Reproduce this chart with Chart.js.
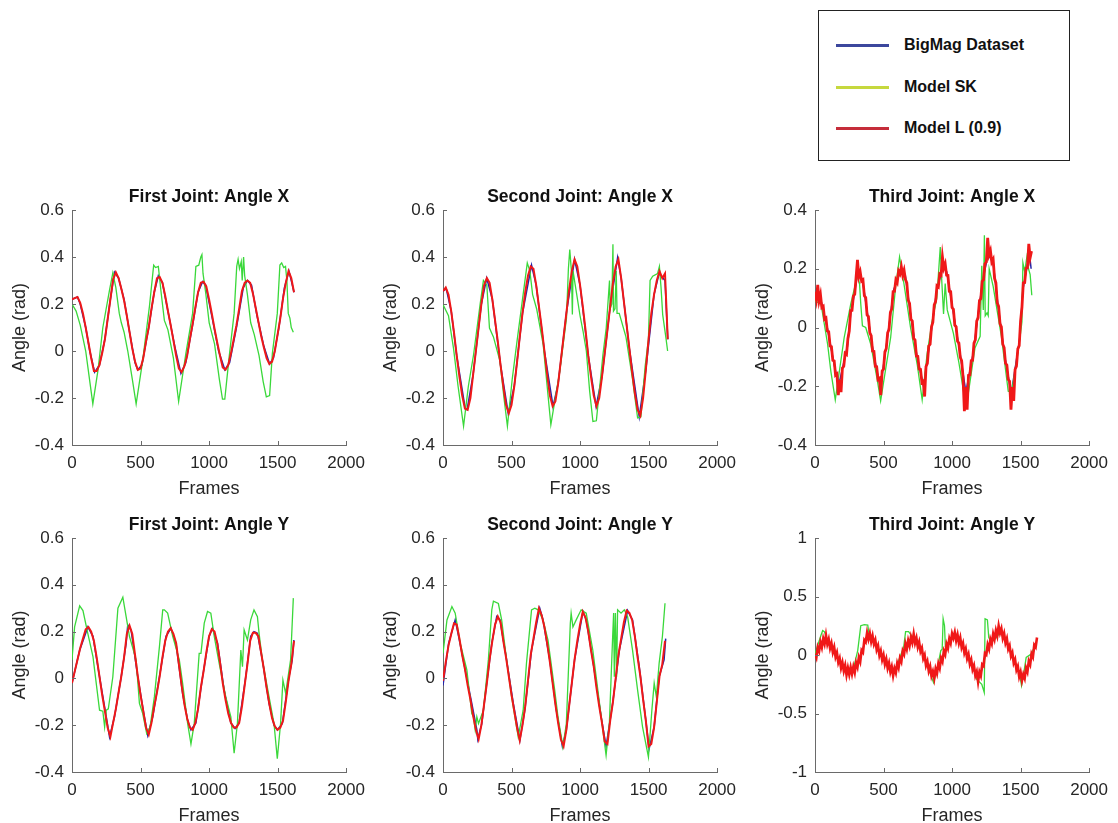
<!DOCTYPE html>
<html>
<head>
<meta charset="utf-8">
<title>Joint angles</title>
<script src="https://cdn.jsdelivr.net/npm/chart.js@4.4.1/dist/chart.umd.min.js"></script>
<style>
  body { margin: 0; background: #fff; }
  #page { position: relative; width: 1118px; height: 823px; overflow: hidden; background: #fff;
          font-family: "Liberation Sans", Arial, sans-serif; }
  canvas.panel { position: absolute; }
  #legend { position: absolute; left: 818px; top: 10px; width: 252px; height: 151px;
            box-sizing: border-box; border: 1px solid #222; background: #fff; }
  .legend-line { position: absolute; left: 17px; width: 53px; height: 3px; }
  .legend-text { position: absolute; left: 85px; height: 20px; line-height: 20px;
                 font-weight: bold; font-size: 16px; color: #111; white-space: nowrap; }
</style>
</head>
<body>
<div id="page">
  <div id="legend"></div>
</div>
<script>
// red traces are sampled on a fixed frame grid, the others at their own frames
const FRAME_STEP = 20;
const NOISY_STEP = 10;

const seriesNames = ["BigMag Dataset", "Model SK", "Model L (0.9)"];
const panelTitles = [
  "First Joint: Angle X", "Second Joint: Angle X", "Third Joint: Angle X",
  "First Joint: Angle Y", "Second Joint: Angle Y", "Third Joint: Angle Y"
];
const frameTicks = [0, 500, 1000, 1500, 2000];
const angleTicksWide = [-0.4, -0.2, 0, 0.2, 0.4, 0.6];
const angleTicksNarrow = [-0.4, -0.2, 0, 0.2, 0.4];
const angleTicksUnit = [-1, -0.5, 0, 0.5, 1];

// ---- First Joint: Angle X
const b1Frames = [0,40,60,100,130,165,200,240,280,310,340,380,420,460,480,510,560,600,630,660,700,750,795,830,880,920,953,975,1020,1070,1115,1150,1200,1250,1280,1310,1350,1400,1442,1470,1510,1550,1583,1600,1620];
const b1Angle = [0.22,0.23,0.20,0.10,0.0,-0.09,-0.06,0.05,0.22,0.335,0.31,0.22,0.08,-0.05,-0.08,-0.06,0.10,0.25,0.32,0.29,0.17,0.02,-0.095,-0.05,0.11,0.25,0.295,0.28,0.15,0.0,-0.08,-0.05,0.10,0.27,0.30,0.28,0.15,0.02,-0.055,-0.03,0.10,0.27,0.34,0.30,0.25];
const g1Frames = [0,30,60,100,130,152,190,225,274,298,320,345,360,380,407,440,468,516,565,596,610,630,650,674,700,740,778,831,880,904,925,940,948,956,975,1001,1040,1075,1098,1115,1147,1183,1202,1212,1222,1235,1242,1252,1260,1280,1304,1330,1365,1395,1418,1442,1462,1498,1517,1530,1545,1558,1568,1578,1590,1600,1615];
const g1Angle = [0.20,0.17,0.11,0.0,-0.13,-0.225,-0.08,0.10,0.26,0.333,0.27,0.16,0.12,0.08,0.0,-0.12,-0.225,-0.04,0.19,0.365,0.355,0.36,0.25,0.13,0.09,-0.03,-0.215,-0.01,0.16,0.36,0.365,0.40,0.41,0.33,0.25,0.12,0.03,-0.12,-0.205,-0.205,-0.024,0.16,0.36,0.39,0.35,0.38,0.30,0.40,0.32,0.24,0.12,0.07,-0.02,-0.13,-0.195,-0.19,-0.01,0.16,0.366,0.375,0.355,0.36,0.30,0.16,0.14,0.10,0.08];
const r1Angle = [0.22,0.225,0.23,0.205,0.16,0.10,0.035,-0.03,-0.085,-0.085,
  -0.06,-0.01,0.05,0.135,0.22,0.305,0.335,0.31,0.265,0.215,
  0.15,0.08,0.01,-0.045,-0.08,-0.075,-0.03,0.04,0.10,0.18,
  0.25,0.31,0.315,0.29,0.235,0.17,0.11,0.045,-0.02,-0.075,
  -0.09,-0.065,-0.02,0.05,0.115,0.185,0.25,0.29,0.295,0.275,
  0.22,0.16,0.095,0.035,-0.02,-0.07,-0.08,-0.06,-0.01,0.05,
  0.11,0.18,0.255,0.29,0.30,0.29,0.245,0.185,0.125,0.065,
  0.015,-0.03,-0.055,-0.045,0.0,0.07,0.14,0.225,0.29,0.34,
  0.31,0.25];

// ---- Second Joint: Angle X
const b2Frames = [0,24,60,100,162,176,220,280,319,360,420,476,520,580,646,680,740,803,840,900,960,1000,1060,1117,1160,1220,1274,1300,1360,1432,1480,1540,1577,1620,1640];
const b2Angle = [0.255,0.265,0.17,-0.02,-0.245,-0.25,-0.10,0.20,0.31,0.22,-0.06,-0.265,-0.15,0.16,0.365,0.28,0.0,-0.236,-0.14,0.16,0.39,0.28,-0.02,-0.236,-0.11,0.19,0.397,0.31,0.01,-0.28,-0.08,0.24,0.33,0.30,0.05];
const g2Frames = [0,40,77,110,150,185,223,271,295,320,339,368,416,445,470,505,537,580,615,634,654,683,731,760,787,852,901,915,925,937,944,949,965,1000,1022,1046,1070,1094,1119,1167,1191,1215,1220,1232,1240,1244,1255,1264,1270,1286,1335,1383,1420,1444,1475,1499,1511,1530,1566,1579,1591,1603,1627,1639];
const g2Angle = [0.198,0.15,0.01,-0.15,-0.32,-0.15,-0.016,0.20,0.30,0.28,0.098,0.06,-0.044,-0.2,-0.32,-0.12,0.027,0.22,0.375,0.34,0.24,0.18,0.027,-0.15,-0.314,-0.087,0.14,0.35,0.432,0.34,0.155,0.34,0.28,0.15,0.084,0.0,-0.17,-0.30,-0.297,-0.016,0.098,0.30,0.18,0.20,0.454,0.17,0.18,0.34,0.16,0.16,0.06,-0.12,-0.285,-0.28,-0.065,0.05,0.30,0.318,0.33,0.36,0.27,0.155,0.055,0.0];
const r2Angle = [0.255,0.27,0.24,0.17,0.08,-0.02,-0.11,-0.19,-0.245,-0.25,
  -0.20,-0.10,0.0,0.10,0.20,0.28,0.31,0.29,0.22,0.13,
  0.04,-0.06,-0.15,-0.23,-0.265,-0.23,-0.15,-0.05,0.06,0.16,
  0.25,0.32,0.36,0.35,0.28,0.19,0.10,0.0,-0.10,-0.19,
  -0.235,-0.215,-0.14,-0.04,0.06,0.16,0.26,0.34,0.39,0.36,
  0.28,0.19,0.09,-0.02,-0.11,-0.19,-0.235,-0.20,-0.11,-0.01,
  0.09,0.19,0.29,0.36,0.39,0.31,0.21,0.11,0.01,-0.09,
  -0.18,-0.25,-0.275,-0.20,-0.08,0.05,0.16,0.24,0.30,0.34,
  0.31,0.33,0.05];

// ---- Third Joint: Angle X (red sampled every NOISY_STEP frames)
const b3Frames = [0,40,92,128,152,176,237,261,285,309,345,382,418,454,478,527,575,623,659,696,744,792,841,889,937,961,1010,1058,1101,1155,1191,1227,1263,1300,1336,1384,1432,1493,1517,1541,1565,1577];
const b3Angle = [0.11,0.10,-0.006,-0.097,-0.154,-0.19,-0.063,0.05,0.108,0.18,0.166,0.05,-0.063,-0.154,-0.20,-0.04,0.13,0.19,0.177,0.05,-0.097,-0.20,-0.04,0.13,0.21,0.19,0.05,-0.086,-0.22,-0.086,0.05,0.166,0.25,0.22,0.074,-0.097,-0.225,-0.04,0.13,0.19,0.25,0.20];
const g3Frames = [0,44,92,116,148,213,261,310,325,334,346,370,407,455,479,552,588,617,649,697,746,782,818,855,889,914,926,938,950,965,1010,1050,1085,1120,1167,1205,1217,1228,1236,1242,1255,1264,1271,1300,1360,1410,1434,1470,1497,1510,1517,1530,1546,1558,1570,1582];
const g3Angle = [0.09,0.08,-0.057,-0.15,-0.246,-0.034,0.08,0.177,0.15,0.08,0.006,0.0,-0.057,-0.18,-0.25,-0.034,0.137,0.24,0.149,0.0,-0.126,-0.246,-0.09,0.023,0.10,0.274,0.15,0.046,0.15,0.06,-0.02,-0.12,-0.22,-0.22,-0.07,-0.03,0.21,0.06,0.314,0.04,0.05,0.04,0.20,0.14,-0.03,-0.217,-0.22,-0.12,-0.03,0.02,0.22,0.19,0.24,0.20,0.18,0.11];
const r3Angle = [0.122,0.096,0.145,0.091,0.112,0.068,0.072,0.028,0.032,-0.012,
  -0.014,-0.063,-0.065,-0.112,-0.114,-0.162,-0.158,-0.23,-0.178,-0.22,
  -0.138,-0.132,-0.088,-0.092,-0.038,-0.012,0.057,0.058,0.107,0.113,
  0.172,0.23,0.173,0.189,0.158,0.162,0.108,0.102,0.043,0.037,
  -0.018,-0.028,-0.08,-0.081,-0.132,-0.133,-0.177,-0.173,-0.23,-0.148,
  -0.142,-0.083,-0.072,-0.018,-0.007,0.052,0.063,0.122,0.123,0.162,
  0.153,0.192,0.183,0.207,0.178,0.195,0.163,0.152,0.093,0.082,
  0.028,0.022,-0.037,-0.043,-0.097,-0.098,-0.142,-0.143,-0.187,-0.183,
  -0.235,-0.133,-0.122,-0.063,-0.057,0.002,0.018,0.077,0.088,0.142,
  0.138,0.182,0.178,0.24,0.203,0.217,0.178,0.177,0.123,0.122,
  0.068,0.062,0.008,0.002,-0.047,-0.053,-0.102,-0.113,-0.167,-0.285,
  -0.203,-0.28,-0.163,-0.162,-0.113,-0.112,-0.053,-0.042,0.022,0.033,
  0.092,0.098,0.157,0.163,0.217,0.223,0.305,0.248,0.262,0.223,
  0.232,0.168,0.152,0.083,0.072,0.013,0.002,-0.057,-0.068,-0.122,
  -0.128,-0.177,-0.183,-0.28,-0.203,-0.25,-0.143,-0.132,-0.073,-0.062,
  0.022,0.068,0.152,0.153,0.202,0.203,0.285,0.238,0.26];

// ---- First Joint: Angle Y
const b4Frames = [0,56,116,153,201,250,274,310,359,395,407,431,480,528,553,589,638,686,722,759,807,844,868,904,953,1001,1025,1062,1110,1159,1190,1219,1268,1304,1328,1353,1389,1438,1474,1498,1535,1583,1607,1619];
const b4Angle = [-0.02,0.12,0.22,0.18,0.007,-0.164,-0.25,-0.164,0.007,0.15,0.228,0.207,0.007,-0.164,-0.243,-0.164,0.007,0.18,0.214,0.15,-0.064,-0.18,-0.22,-0.19,0.007,0.18,0.214,0.15,-0.05,-0.19,-0.214,-0.19,0.007,0.18,0.20,0.193,0.079,-0.107,-0.20,-0.22,-0.193,0.007,0.079,0.164];
const g4Frames = [0,19,56,80,116,153,201,225,238,250,265,298,335,371,395,419,468,492,516,545,570,601,638,662,674,698,735,783,807,844,868,892,928,941,965,989,1013,1038,1074,1122,1159,1183,1207,1232,1244,1256,1280,1304,1328,1353,1365,1389,1438,1474,1498,1522,1539,1559,1595,1615];
const g4Angle = [0.079,0.22,0.31,0.29,0.19,0.093,-0.136,-0.14,-0.207,-0.136,-0.13,0.007,0.30,0.347,0.264,0.18,0.079,-0.107,-0.15,-0.236,-0.207,-0.079,0.136,0.293,0.293,0.279,0.18,0.079,-0.02,-0.193,-0.28,-0.193,0.107,0.107,0.236,0.286,0.279,0.18,0.064,-0.079,-0.164,-0.32,-0.193,0.121,0.05,0.207,0.164,0.25,0.293,0.264,0.193,0.079,-0.079,-0.193,-0.343,-0.193,-0.007,-0.064,0.079,0.343];
const r4Angle = [-0.02,0.03,0.08,0.13,0.17,0.21,0.22,0.20,0.16,0.09,
  0.01,-0.07,-0.14,-0.21,-0.25,-0.19,-0.13,-0.06,0.01,0.09,
  0.19,0.225,0.19,0.10,0.01,-0.07,-0.14,-0.21,-0.24,-0.19,
  -0.12,-0.06,0.01,0.09,0.16,0.20,0.215,0.19,0.15,0.06,
  -0.03,-0.11,-0.17,-0.21,-0.22,-0.19,-0.13,-0.04,0.03,0.11,
  0.18,0.21,0.20,0.15,0.07,-0.02,-0.09,-0.15,-0.19,-0.21,
  -0.21,-0.19,-0.12,-0.03,0.06,0.16,0.195,0.195,0.18,0.11,
  0.04,-0.04,-0.11,-0.17,-0.205,-0.22,-0.21,-0.18,-0.10,-0.01,
  0.06,0.16];

// ---- Second Joint: Angle Y
const b5Frames = [0,41,89,114,162,210,247,254,283,319,356,392,416,464,513,561,597,646,706,730,779,827,871,900,960,1021,1045,1093,1154,1190,1238,1287,1347,1383,1432,1480,1504,1541,1577,1613,1625];
const b5Angle = [-0.03,0.15,0.25,0.18,0.036,-0.107,-0.22,-0.26,-0.193,-0.02,0.15,0.264,0.25,0.079,-0.107,-0.264,-0.136,0.121,0.30,0.25,0.079,-0.136,-0.29,-0.22,0.079,0.286,0.25,0.079,-0.164,-0.29,-0.107,0.121,0.29,0.25,0.05,-0.179,-0.30,-0.207,0.007,0.079,0.17];
const g5Frames = [0,29,65,89,126,174,210,222,235,247,259,295,331,356,368,404,428,464,501,549,585,609,646,670,694,730,766,815,839,875,900,929,935,948,972,1008,1045,1093,1142,1190,1214,1238,1245,1250,1258,1267,1274,1299,1323,1347,1383,1420,1456,1499,1524,1541,1557,1577,1601,1620];
const g5Angle = [0.107,0.25,0.307,0.279,0.15,0.036,-0.15,-0.164,-0.22,-0.164,-0.193,-0.136,0.079,0.293,0.33,0.32,0.25,0.079,-0.079,-0.25,-0.136,0.064,0.293,0.30,0.293,0.25,0.164,-0.05,-0.164,-0.293,-0.193,0.236,0.279,0.22,0.25,0.293,0.279,0.121,-0.107,-0.329,-0.193,0.179,0.279,0.007,0.279,0.007,0.293,0.279,0.293,0.264,0.121,-0.05,-0.207,-0.336,-0.136,-0.02,-0.079,0.064,0.179,0.321];
const r5Angle = [-0.01,0.07,0.14,0.19,0.235,0.23,0.17,0.10,0.04,-0.03,
  -0.09,-0.16,-0.22,-0.26,-0.20,-0.11,-0.02,0.08,0.16,0.23,
  0.265,0.24,0.16,0.09,0.01,-0.07,-0.14,-0.21,-0.265,-0.20,
  -0.12,-0.01,0.10,0.17,0.24,0.30,0.27,0.22,0.15,0.07,
  -0.02,-0.11,-0.19,-0.26,-0.29,-0.22,-0.12,-0.02,0.08,0.16,
  0.23,0.285,0.26,0.20,0.12,0.05,-0.04,-0.12,-0.19,-0.27,
  -0.28,-0.18,-0.10,0.0,0.10,0.17,0.24,0.29,0.28,0.25,
  0.18,0.09,0.01,-0.09,-0.18,-0.29,-0.28,-0.21,-0.10,0.01,
  0.06,0.16];

// ---- Third Joint: Angle Y (red sampled every NOISY_STEP frames)
const b6Frames = [0,31,80,140,188,237,285,333,370,386,430,478,527,575,623,659,720,768,816,865,913,961,1010,1058,1106,1155,1191,1215,1251,1300,1348,1396,1444,1493,1517,1553,1589,1613];
const b6Angle = [-0.02,0.066,0.14,0.037,-0.077,-0.14,-0.13,-0.02,0.14,0.17,0.123,0.009,-0.077,-0.155,-0.05,0.066,0.15,0.066,-0.077,-0.18,-0.077,0.066,0.175,0.123,0.009,-0.106,-0.2,-0.135,0.037,0.15,0.22,0.123,-0.02,-0.164,-0.2,-0.106,0.009,0.11];
const g6Frames = [0,43,56,68,92,140,190,237,280,312,334,360,385,395,440,490,551,575,610,647,661,683,720,770,816,865,889,918,928,935,945,951,965,1010,1060,1106,1155,1179,1217,1235,1241,1258,1268,1287,1324,1360,1408,1444,1493,1507,1522,1541,1577,1613];
const g6Angle = [0.009,0.166,0.21,0.20,0.123,0.009,-0.08,-0.135,-0.12,0.04,0.25,0.26,0.255,0.17,0.10,0.0,-0.135,-0.15,-0.05,0.066,0.20,0.20,0.14,0.05,-0.077,-0.236,-0.135,0.037,0.05,0.31,0.25,0.08,0.10,0.166,0.10,0.009,-0.106,-0.207,-0.25,-0.32,0.31,0.30,0.15,0.11,0.15,0.21,0.095,-0.02,-0.164,-0.26,-0.164,-0.02,0.009,0.095];
const r6Angle = [0.01,-0.022,0.066,0.033,0.11,0.065,0.14,0.095,0.17,0.093,
  0.135,0.058,0.101,0.024,0.067,-0.017,0.02,-0.064,-0.028,-0.11,
  -0.063,-0.136,-0.089,-0.172,-0.11,-0.167,-0.105,-0.163,-0.101,-0.15,
  -0.066,-0.103,-0.02,-0.057,0.04,0.023,0.127,0.11,0.19,0.136,
  0.185,0.114,0.164,0.093,0.129,0.045,0.08,-0.004,0.035,-0.042,
  0.0,-0.078,-0.035,-0.112,-0.068,-0.144,-0.1,-0.177,-0.114,-0.152,
  -0.07,-0.109,-0.027,-0.057,0.035,0.007,0.097,0.051,0.125,0.079,
  0.152,0.106,0.18,0.103,0.145,0.068,0.11,0.03,0.06,-0.03,
  0.0,-0.09,-0.055,-0.136,-0.097,-0.178,-0.14,-0.2,-0.118,-0.157,
  -0.075,-0.113,-0.026,-0.056,0.034,0.004,0.093,0.057,0.139,0.101,
  0.183,0.145,0.194,0.123,0.173,0.102,0.148,0.065,0.101,0.017,
  0.053,-0.03,0.006,-0.077,-0.041,-0.124,-0.09,-0.176,-0.142,-0.228,
  -0.145,-0.178,-0.081,-0.094,0.014,0.002,0.088,0.051,0.134,0.097,
  0.18,0.135,0.21,0.164,0.249,0.188,0.226,0.145,0.185,0.104,
  0.141,0.05,0.08,-0.01,0.02,-0.068,-0.038,-0.127,-0.096,-0.185,
  -0.145,-0.22,-0.166,-0.2,-0.11,-0.144,-0.053,-0.082,0.01,-0.017,
  0.085,0.067,0.15];

// ---- look
const FONT = '"Liberation Sans", Arial, sans-serif';
const AXIS_COLOR = '#6a6a6a';
const TEXT_COLOR = '#262626';
const LINE_COLORS = ['#2424a8', '#3ad83a', '#f01818'];
const LEGEND_COLORS = ['#3c479d', '#c6d83e', '#c52d3a'];

// panel frame geometry (chart area of each subplot)
const COLUMN_LEFT = [72, 443, 815];
const ROW_BOX = [{ top: 210, height: 235 }, { top: 538, height: 234 }];
const PLOT_W = 275;
const Y_AXIS_W = 70;
const X_AXIS_H = 55;
const TITLE_H = 23;
const RIGHT_PAD = 26;

function pairPoints(frames, values) {
  return values.map((v, i) => ({ x: frames[i], y: v }));
}
function stepPoints(values, step) {
  return values.map((v, i) => ({ x: i * step, y: v }));
}

const panels = [
  { title: panelTitles[0], yTicks: angleTicksWide, blue: pairPoints(b1Frames, b1Angle), green: pairPoints(g1Frames, g1Angle), red: stepPoints(r1Angle, FRAME_STEP), redWidth: 2 },
  { title: panelTitles[1], yTicks: angleTicksWide, blue: pairPoints(b2Frames, b2Angle), green: pairPoints(g2Frames, g2Angle), red: stepPoints(r2Angle, FRAME_STEP), redWidth: 2 },
  { title: panelTitles[2], yTicks: angleTicksNarrow, blue: pairPoints(b3Frames, b3Angle), green: pairPoints(g3Frames, g3Angle), red: stepPoints(r3Angle, NOISY_STEP), redWidth: 2.8 },
  { title: panelTitles[3], yTicks: angleTicksWide, blue: pairPoints(b4Frames, b4Angle), green: pairPoints(g4Frames, g4Angle), red: stepPoints(r4Angle, FRAME_STEP), redWidth: 2 },
  { title: panelTitles[4], yTicks: angleTicksWide, blue: pairPoints(b5Frames, b5Angle), green: pairPoints(g5Frames, g5Angle), red: stepPoints(r5Angle, FRAME_STEP), redWidth: 2 },
  { title: panelTitles[5], yTicks: angleTicksUnit, blue: pairPoints(b6Frames, b6Angle), green: pairPoints(g6Frames, g6Angle), red: stepPoints(r6Angle, NOISY_STEP), redWidth: 2.6 }
];

// MATLAB style: short tick marks pointing into the axes
const inwardTicks = {
  id: 'inwardTicks',
  afterDraw(chart) {
    const { ctx, chartArea, scales: { x, y } } = chart;
    ctx.save();
    ctx.strokeStyle = AXIS_COLOR;
    ctx.lineWidth = 1;
    ctx.beginPath();
    x.ticks.forEach((t) => {
      const px = Math.round(x.getPixelForValue(t.value)) + 0.5;
      ctx.moveTo(px, chartArea.bottom);
      ctx.lineTo(px, chartArea.bottom - 4);
    });
    y.ticks.forEach((t) => {
      const py = Math.round(y.getPixelForValue(t.value)) + 0.5;
      ctx.moveTo(chartArea.left, py);
      ctx.lineTo(chartArea.left + 4, py);
    });
    ctx.stroke();
    ctx.restore();
  }
};

const page = document.getElementById('page');

panels.forEach((panel, i) => {
  const col = i % 3;
  const row = ROW_BOX[Math.floor(i / 3)];
  const canvas = document.createElement('canvas');
  canvas.className = 'panel';
  canvas.width = Y_AXIS_W + PLOT_W + RIGHT_PAD;
  canvas.height = TITLE_H + row.height + X_AXIS_H;
  canvas.style.left = (COLUMN_LEFT[col] - Y_AXIS_W) + 'px';
  canvas.style.top = (row.top - TITLE_H) + 'px';
  page.appendChild(canvas);

  const yTicks = panel.yTicks;
  const line = (label, data, color, width, order) => ({
    label, data, borderColor: color, borderWidth: width, order,
    showLine: true, pointRadius: 0, tension: 0, fill: false
  });

  new Chart(canvas, {
    type: 'scatter',
    data: {
      datasets: [
        line(seriesNames[0], panel.blue, LINE_COLORS[0], 1.5, 3),
        line(seriesNames[1], panel.green, LINE_COLORS[1], 1.3, 2),
        line(seriesNames[2], panel.red, LINE_COLORS[2], panel.redWidth, 1)
      ]
    },
    options: {
      responsive: false,
      animation: false,
      events: [],
      layout: { padding: { left: 0, top: 0, bottom: 0, right: RIGHT_PAD } },
      plugins: {
        legend: { display: false },
        tooltip: { enabled: false },
        title: {
          display: true,
          fullSize: false,
          text: panel.title,
          color: '#111',
          font: { family: FONT, size: 17.5, weight: 'bold' },
          padding: { top: 0, bottom: 2 }
        }
      },
      scales: {
        x: {
          type: 'linear',
          min: frameTicks[0],
          max: frameTicks[frameTicks.length - 1],
          afterFit: (s) => { s.height = X_AXIS_H; },
          afterBuildTicks: (s) => { s.ticks = frameTicks.map((v) => ({ value: v })); },
          grid: { display: false, drawTicks: false },
          border: { display: true, color: AXIS_COLOR, width: 1 },
          ticks: { color: TEXT_COLOR, font: { family: FONT, size: 17 }, padding: 8, maxRotation: 0,
                   callback: (v) => String(v) },
          title: { display: true, text: 'Frames', color: TEXT_COLOR,
                   font: { family: FONT, size: 18 }, padding: { top: 0, bottom: 0 } }
        },
        y: {
          type: 'linear',
          min: yTicks[0],
          max: yTicks[yTicks.length - 1],
          afterFit: (s) => { s.width = Y_AXIS_W; },
          afterBuildTicks: (s) => { s.ticks = yTicks.map((v) => ({ value: v })); },
          grid: { display: false, drawTicks: false },
          border: { display: true, color: AXIS_COLOR, width: 1 },
          ticks: { color: TEXT_COLOR, font: { family: FONT, size: 17 }, padding: 8,
                   callback: (v) => String(v) },
          title: { display: true, text: 'Angle (rad)', color: TEXT_COLOR,
                   font: { family: FONT, size: 18 }, padding: { top: 7, bottom: 0 } }
        }
      }
    },
    plugins: [inwardTicks]
  });
});

// legend box shared by all six panels
const legend = document.getElementById('legend');
const LEGEND_ROW_Y = [34, 76, 117];
seriesNames.forEach((name, i) => {
  const swatch = document.createElement('div');
  swatch.className = 'legend-line';
  swatch.style.top = (LEGEND_ROW_Y[i] - 1.5) + 'px';
  swatch.style.background = LEGEND_COLORS[i];
  legend.appendChild(swatch);
  const text = document.createElement('div');
  text.className = 'legend-text';
  text.style.top = (LEGEND_ROW_Y[i] - 10) + 'px';
  text.textContent = name;
  legend.appendChild(text);
});
</script>
</body>
</html>
